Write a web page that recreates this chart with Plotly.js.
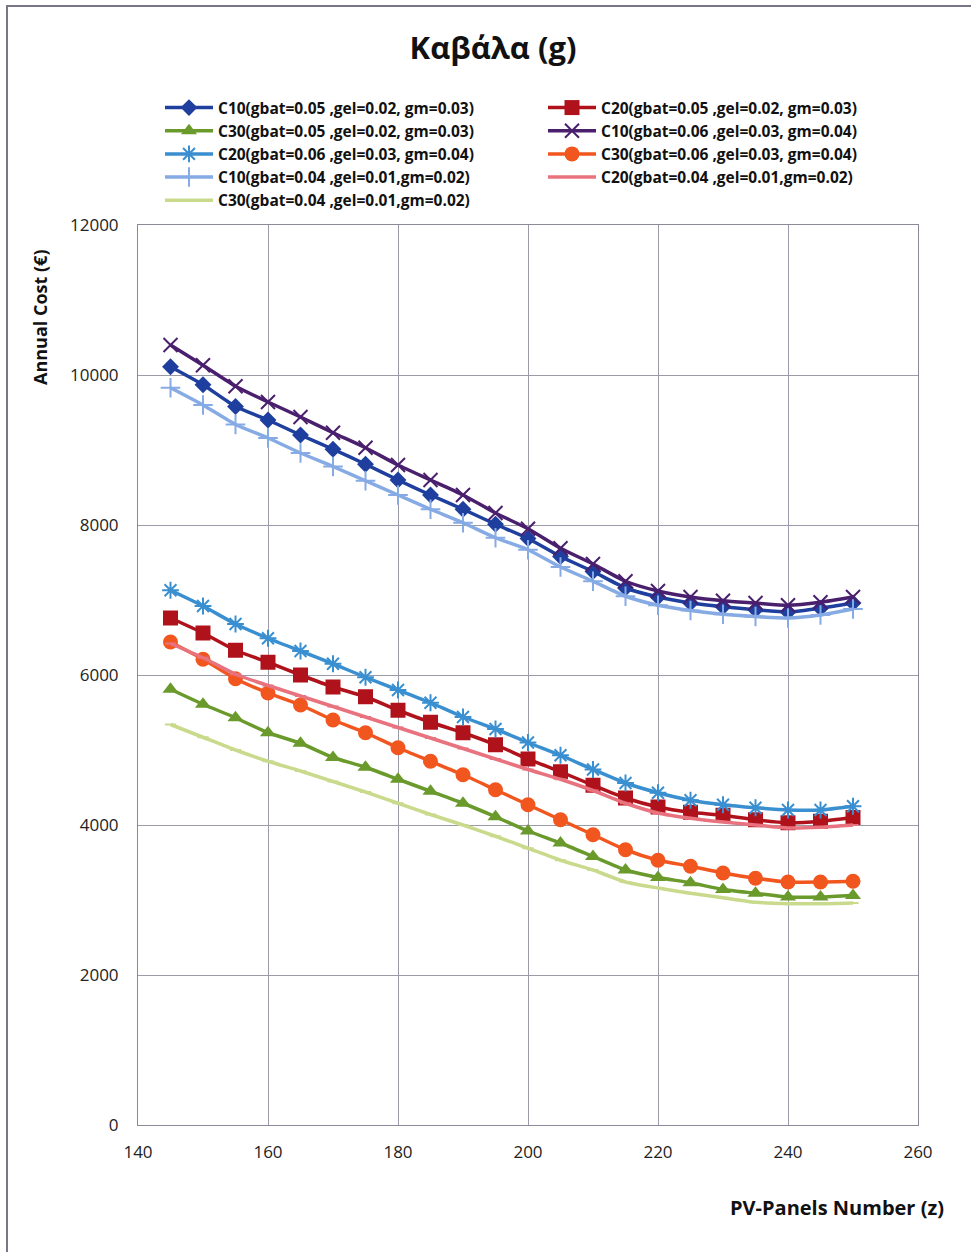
<!DOCTYPE html>
<html>
<head>
<meta charset="utf-8">
<script src="https://cdn.plot.ly/plotly-3.0.1.min.js"></script>
<style>html,body{margin:0;padding:0;background:#fff;}#chart{width:971px;height:1252px;}</style>
</head>
<body>
<div id="chart"></div>
<script>
const panels = [145,150,155,160,165,170,175,180,185,190,195,200,205,210,215,220,225,230,235,240,245,250];

const c10_005 = [10110,9870,9580,9400,9200,9010,8810,8600,8400,8210,8010,7820,7580,7380,7160,7040,6960,6910,6870,6840,6890,6960];
const c20_005 = [6760,6560,6330,6170,6000,5840,5710,5530,5370,5230,5070,4880,4710,4530,4360,4240,4170,4130,4070,4030,4050,4100];
const c30_005 = [5810,5610,5430,5230,5090,4900,4770,4610,4450,4290,4110,3920,3760,3580,3400,3300,3230,3140,3090,3040,3040,3060];
const c10_006 = [10400,10130,9850,9640,9440,9230,9030,8800,8600,8400,8160,7950,7690,7480,7250,7120,7040,6990,6960,6930,6970,7040];
const c20_006 = [7130,6920,6680,6490,6320,6150,5970,5800,5630,5440,5280,5100,4930,4740,4560,4430,4330,4270,4230,4200,4200,4250];
const c30_006 = [6440,6210,5950,5760,5600,5400,5230,5030,4850,4670,4470,4270,4070,3870,3670,3530,3450,3360,3290,3240,3240,3250];
const c10_004 = [9830,9600,9340,9160,8960,8780,8590,8400,8210,8030,7830,7670,7440,7250,7050,6930,6860,6810,6780,6760,6800,6880];
const c20_004 = [6420,6230,6010,5860,5720,5580,5440,5300,5160,5020,4880,4740,4610,4460,4290,4160,4090,4040,4000,3960,3970,4000];
const c30_004 = [5340,5170,5000,4850,4720,4580,4440,4290,4140,4000,3850,3690,3530,3400,3240,3160,3090,3030,2970,2950,2950,2960];

const names = [
  "C10(gbat=0.05 ,gel=0.02, gm=0.03)",
  "C20(gbat=0.05 ,gel=0.02, gm=0.03)",
  "C30(gbat=0.05 ,gel=0.02, gm=0.03)",
  "C10(gbat=0.06 ,gel=0.03, gm=0.04)",
  "C20(gbat=0.06 ,gel=0.03, gm=0.04)",
  "C30(gbat=0.06 ,gel=0.03, gm=0.04)",
  "C10(gbat=0.04 ,gel=0.01,gm=0.02)",
  "C20(gbat=0.04 ,gel=0.01,gm=0.02)",
  "C30(gbat=0.04 ,gel=0.01,gm=0.02)"
];
const series = [c10_005,c20_005,c30_005,c10_006,c20_006,c30_006,c10_004,c20_004,c30_004];
const colors = ["#1f3f9e","#b0121c","#6b9a2c","#4a1f6e","#3a8fd0","#f2561f","#86aae4","#e8727e","#c9da8c"];
const symbols = ["diamond","square","triangle-up","x-thin-open","asterisk-open","circle","cross-thin-open","line-ew-open","line-ew-open"];
const sizes = [13,15,14,14,14,15,14,8,8];
const legendCol = ["legend","legend2","legend","legend2","legend","legend2","legend","legend2","legend"];

const traces = series.map((y,i)=>({
  x: panels, y: y, name: names[i], type: "scatter", mode: "lines+markers", legend: legendCol[i],
  line: {color: colors[i], width: 3.5, shape: "spline", smoothing: 0.6},
  marker: {symbol: symbols[i], size: sizes[i], color: colors[i],
           line: {color: colors[i], width: (symbols[i].indexOf("open")>=0 ? 2 : 0)}}
}));

const tf = "'Open Sans',sans-serif";
const legendBase = {orientation: "v", yref: "container", y: 1 - 91/1252, xanchor: "left", yanchor: "top",
  itemwidth: 48, tracegroupgap: 0, font: {family: tf, size: 15.5, color: "#111", weight: "bold"}, bgcolor: "rgba(0,0,0,0)"};
const layout = {
  width: 971, height: 1252,
  margin: {l: 138, r: 53, t: 225, b: 127, autoexpand: false},
  paper_bgcolor: "#ffffff", plot_bgcolor: "#ffffff",
  showlegend: true,
  title: {text: "<b>Καβάλα (g)</b>", x: 493/971, xref: "container", xanchor: "center", y: 1 - 48/1252, yanchor: "middle",
          font: {family: tf, size: 31, color: "#111"}},
  xaxis: {range: [140, 260], dtick: 20, tick0: 140, showgrid: true, gridcolor: "#9a9aa8", gridwidth: 1,
          showline: true, linecolor: "#8a8a98", linewidth: 1, mirror: true, zeroline: false,
          ticks: "", ticklabelstandoff: 12, tickfont: {family: tf, size: 17, color: "#222"}},
  yaxis: {range: [0, 12000], dtick: 2000, tickformat: "d", showgrid: true, gridcolor: "#9a9aa8", gridwidth: 1,
          showline: true, linecolor: "#8a8a98", linewidth: 1, mirror: true, zeroline: false,
          ticks: "", ticklabelstandoff: 15, tickfont: {family: tf, size: 17, color: "#222"}},
  legend: Object.assign({}, legendBase, {x: (160-138)/780, xref: "paper"}),
  legend2: Object.assign({}, legendBase, {x: (543-138)/780, xref: "paper"}),
  annotations: [
    {text: "<b>Annual Cost (€)</b>", xref: "paper", yref: "paper", x: (40-138)/780, y: (1125-317)/900,
     textangle: -90, showarrow: false, xanchor: "center", yanchor: "middle",
     font: {family: tf, size: 18, color: "#111"}},
    {text: "<b>PV-Panels Number (z)</b>", xref: "paper", yref: "paper", x: (946-138)/780, y: (1125-1207)/900,
     showarrow: false, xanchor: "right", yanchor: "middle",
     font: {family: tf, size: 20, color: "#111"}}
  ],
  shapes: [
    {type: "rect", xref: "paper", yref: "paper", x0: (7-138)/780, x1: (1000-138)/780, y0: (1125-1300)/900, y1: (1125-6)/900,
     line: {color: "#777788", width: 2}, fillcolor: "rgba(0,0,0,0)", layer: "below"}
  ]
};
Plotly.newPlot("chart", traces, layout, {displayModeBar: false, staticPlot: true});
</script>
</body>
</html>
